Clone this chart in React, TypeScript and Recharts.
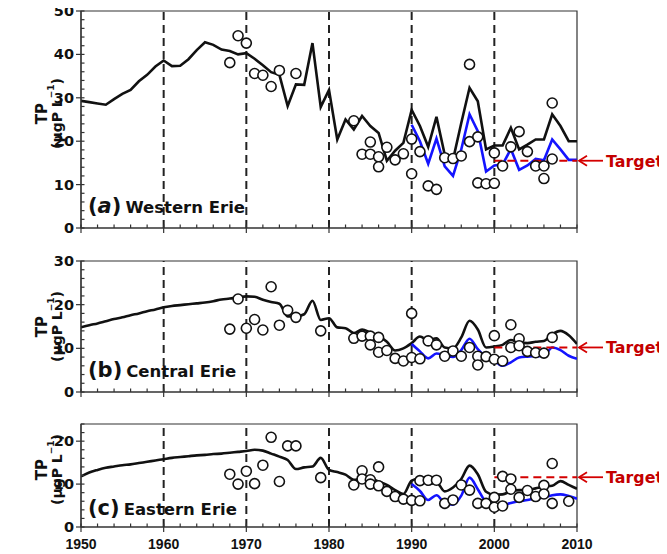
import React from 'react';
import { ComposedChart, Line, Scatter, XAxis, YAxis, ReferenceLine, ReferenceArea } from 'recharts';

// ---- data ----
const modelYears = [
  1950, 1951, 1952, 1953, 1954, 1955, 1956, 1957, 1958, 1959,
  1960, 1961, 1962, 1963, 1964, 1965, 1966, 1967, 1968, 1969,
  1970, 1971, 1972, 1973, 1974, 1975, 1976, 1977, 1978, 1979,
  1980, 1981, 1982, 1983, 1984, 1985, 1986, 1987, 1988, 1989,
  1990, 1991, 1992, 1993, 1994, 1995, 1996, 1997, 1998, 1999,
  2000, 2001, 2002, 2003, 2004, 2005, 2006, 2007, 2008, 2009, 2010,
];
const scenarioYears = [
  1990, 1991, 1992, 1993, 1994, 1995, 1996, 1997, 1998, 1999,
  2000, 2001, 2002, 2003, 2004, 2005, 2006, 2007, 2008, 2009, 2010,
];

const westModel = [
  29.3, 29.0, 28.7, 28.4, 29.7, 30.9, 31.8, 33.8, 35.3, 37.2,
  38.6, 37.3, 37.4, 38.9, 41.0, 42.8, 42.2, 41.1, 40.8, 40.0,
  40.3, 39.0, 37.5, 35.9, 35.3, 28.1, 33.1, 33.0, 42.6, 27.9,
  31.8, 20.4, 25.0, 22.7, 25.8, 23.5, 21.9, 15.5, 17.8, 19.6,
  27.2, 23.5, 18.7, 25.6, 16.9, 15.7, 24.2, 32.3, 29.2, 18.1,
  19.0, 19.0, 23.1, 18.1, 19.2, 20.4, 20.4, 26.2, 23.5, 20.0, 20.0,
];
const westScenario = [
  23.8, 20.0, 14.8, 20.6, 14.2, 12.0, 18.1, 26.2, 22.3, 13.0,
  14.4, 14.6, 18.2, 13.4, 14.4, 15.9, 15.6, 20.4, 18.1, 15.7, 15.7,
];
const westObsYears = [
  1968, 1969, 1970, 1971, 1972, 1973, 1974, 1976,
  1983, 1984, 1985, 1985, 1986, 1986, 1987, 1988, 1989, 1990, 1990, 1991,
  1992, 1993, 1994, 1995, 1996, 1997, 1997, 1998, 1998, 1999, 2000, 2000,
  2001, 2002, 2003, 2004, 2005, 2006, 2006, 2007, 2007,
];
const westObsTP = [
  38.1, 44.3, 42.6, 35.6, 35.2, 32.6, 36.3, 35.6,
  24.7, 17.0, 19.8, 17.0, 16.4, 14.1, 18.6, 15.7, 17.1, 20.5, 12.5, 17.6,
  9.7, 8.9, 16.2, 16.0, 16.6, 37.7, 19.9, 21.0, 10.4, 10.2, 10.3, 17.3,
  14.3, 18.7, 22.2, 17.6, 14.3, 14.3, 11.4, 28.8, 15.9,
];
const westTarget = 15.5;

const centralModel = [
  14.8, 15.3, 15.7, 16.2, 16.7, 17.1, 17.6, 18.0, 18.5, 18.9,
  19.4, 19.7, 19.9, 20.1, 20.3, 20.5, 20.8, 21.2, 21.4, 21.7,
  21.9, 21.8, 21.1, 20.6, 20.2, 17.3, 17.3, 17.8, 20.9, 16.5,
  16.9, 14.8, 14.6, 13.5, 14.3, 13.6, 12.8, 11.5, 9.5, 10.0,
  11.2, 12.7, 11.9, 12.3, 10.2, 10.0, 12.5, 16.3, 14.3, 10.2,
  10.4, 10.8, 11.9, 11.3, 11.2, 11.5, 11.7, 13.2, 14.0, 13.0, 11.0,
];
const centralScenario = [
  11.0, 9.3, 7.7, 8.8, 8.4, 8.0, 9.6, 12.2, 9.8, 8.0,
  7.2, 6.0, 6.8, 7.9, 8.1, 8.2, 8.3, 10.2, 9.6, 8.3, 7.6,
];
const centralObsYears = [
  1968, 1969, 1970, 1971, 1972, 1973, 1974, 1975, 1976, 1979,
  1983, 1984, 1985, 1985, 1986, 1986, 1987, 1988, 1989, 1990, 1990, 1991,
  1992, 1993, 1994, 1995, 1996, 1997, 1998, 1998, 1999, 2000, 2000, 2001,
  2002, 2002, 2003, 2003, 2004, 2005, 2006, 2007,
];
const centralObsTP = [
  14.4, 21.3, 14.6, 16.6, 14.2, 24.1, 15.3, 18.7, 17.1, 14.0,
  12.3, 12.8, 12.8, 10.8, 12.5, 9.1, 9.5, 7.7, 7.1, 18.0, 7.9, 7.6,
  11.7, 10.8, 8.2, 9.4, 8.2, 10.2, 8.2, 6.2, 8.1, 12.9, 7.5, 7.1,
  15.4, 10.2, 12.2, 10.6, 9.3, 9.0, 8.9, 12.5,
];
const centralTarget = 10.2;

const eastModel = [
  11.8, 12.7, 13.3, 13.8, 14.1, 14.4, 14.6, 14.9, 15.2, 15.5,
  15.8, 16.1, 16.3, 16.5, 16.7, 16.8, 17.0, 17.1, 17.3, 17.5,
  17.7, 18.0, 17.8, 17.1, 16.4, 15.6, 13.5, 13.9, 14.1, 16.1,
  13.3, 12.8, 12.2, 11.0, 11.3, 11.3, 10.6, 9.8, 8.6, 7.7,
  10.8, 11.3, 9.9, 10.4, 8.3, 9.2, 11.2, 14.3, 12.3, 8.2,
  7.5, 7.6, 8.3, 8.6, 8.6, 9.0, 9.4, 9.6, 10.7, 9.8, 8.9,
];
const eastScenario = [
  10.0, 8.4, 6.3, 7.4, 5.6, 5.2, 7.3, 11.5, 8.8, 5.9,
  5.4, 5.1, 5.6, 6.0, 6.3, 6.7, 6.9, 7.4, 7.6, 7.2, 6.6,
];
const eastObsYears = [
  1968, 1969, 1970, 1971, 1972, 1973, 1974, 1975, 1976, 1979,
  1983, 1984, 1984, 1985, 1985, 1986, 1986, 1987, 1988, 1989, 1990, 1991, 1991,
  1992, 1993, 1994, 1995, 1996, 1997, 1998, 1999, 2000, 2000, 2001, 2001,
  2002, 2002, 2003, 2004, 2005, 2006, 2006, 2007, 2007, 2009,
];
const eastObsTP = [
  12.3, 10.0, 13.0, 10.1, 14.4, 20.9, 10.6, 18.9, 18.9, 11.5,
  9.8, 13.1, 11.2, 11.0, 10.0, 14.0, 9.6, 8.3, 7.1, 6.5, 6.2, 6.1, 10.8,
  10.9, 10.9, 5.5, 6.3, 9.8, 8.6, 5.5, 5.5, 6.9, 4.6, 11.8, 4.9,
  11.2, 8.8, 6.9, 8.5, 7.1, 9.7, 7.7, 14.8, 5.5, 6.0,
];
const eastTarget = 11.6;

const yearTicks = [
  1950, 1952, 1954, 1956, 1958, 1960, 1962, 1964, 1966, 1968,
  1970, 1972, 1974, 1976, 1978, 1980, 1982, 1984, 1986, 1988,
  1990, 1992, 1994, 1996, 1998, 2000, 2002, 2004, 2006, 2008, 2010,
];
const decadeLines = [1960, 1970, 1980, 1990, 2000];
const westYTicks = [0, 2, 4, 6, 8, 10, 12, 14, 16, 18, 20, 22, 24, 26, 28, 30, 32, 34, 36, 38, 40, 42, 44, 46, 48, 50];
const centralYTicks = [0, 2, 4, 6, 8, 10, 12, 14, 16, 18, 20, 22, 24, 26, 28, 30];
const eastYTicks = [0, 2, 4, 6, 8, 10, 12, 14, 16, 18, 20, 22, 24];

// ---- helpers ----
const AXIS = '#333';
const RED = '#d40000';
const FONT = "'DejaVu Sans', sans-serif";

const zip = (xs: number[], ys: number[]) => xs.map((x, i) => ({ year: x, tp: ys[i] }));

const makeXTick = (showLabel: boolean) => (p: any) => {
  const { x, y, payload } = p;
  const v = payload.value;
  const major = v % 10 === 0;
  return (
    <g>
      <line x1={x} x2={x} y1={y} y2={y - 3.5} stroke={AXIS} strokeWidth={1.2} />
      {major && <line x1={x} x2={x} y1={y} y2={y + 5} stroke={AXIS} strokeWidth={1.2} />}
      {showLabel && major && (
        <text x={x} y={y + 22} textAnchor="middle" fontFamily="'Liberation Sans', Arial, sans-serif" fontWeight="bold" fontSize={14} fill="#111">
          {v}
        </text>
      )}
    </g>
  );
};

const YTick = (p: any) => {
  const { x, y, payload } = p;
  const v = payload.value;
  const major = v % 10 === 0;
  return (
    <g>
      <line x1={x} x2={x + 3.5} y1={y} y2={y} stroke={AXIS} strokeWidth={1.2} />
      {major && <line x1={x - 5} x2={x} y1={y} y2={y} stroke={AXIS} strokeWidth={1.2} />}
      {major && (
        <text x={x - 7} y={y + 5} textAnchor="end" fontFamily={FONT} fontWeight="bold" fontSize={14.5} fill="#111">
          {v}
        </text>
      )}
    </g>
  );
};

const CircleMark = (p: any) => (
  <circle cx={p.cx} cy={p.cy} r={5} fill="#fff" stroke="#111" strokeWidth={1.6} />
);

const TargetShape = (p: any) => {
  const { x1, y1, x2, y2 } = p;
  const tip = x2 + 2;
  return (
    <g>
      <line x1={x1} y1={y1} x2={x2} y2={y2} stroke={RED} strokeWidth={2} strokeDasharray="8 5" />
      <line x1={tip} y1={y2} x2={tip + 24} y2={y2} stroke={RED} strokeWidth={1.8} />
      <polyline points={`${tip + 8},${y2 - 5} ${tip},${y2} ${tip + 8},${y2 + 5}`} fill="none" stroke={RED} strokeWidth={1.8} />
      <text x={tip + 27} y={y2 + 6} fontFamily={FONT} fontWeight="bold" fontSize={15.5} fill="#c40000"
        textLength={57} lengthAdjust="spacingAndGlyphs">
        Target
      </text>
    </g>
  );
};

type PanelProps = {
  height: number;
  top: number;
  xHeight: number;
  showXLabels: boolean;
  yMax: number;
  yTicks: number[];
  model: number[];
  scenario: number[];
  obsYears: number[];
  obsTP: number[];
  target: number;
  letter: string;
  italicLetter: boolean;
  name: string;
  nameDrop: number;
  titleShift: number;
  curve: 'linear' | 'monotone';
};

function Panel(props: PanelProps) {
  const modelData = zip(modelYears, props.model);
  const scenarioData = zip(scenarioYears, props.scenario);
  const obsData = zip(props.obsYears, props.obsTP);

  const yLabel = (lp: any) => {
    const vb = lp.viewBox || {};
    const left = vb.x + vb.width;
    const cy = vb.y + vb.height / 2 + props.titleShift;
    const bottom = vb.y + vb.height;
    return (
      <g>
        <text x={left - 39} y={cy} transform={`rotate(-90 ${left - 39} ${cy})`} textAnchor="middle" dominantBaseline="central"
          fontFamily={FONT} fontWeight="bold" fontSize={15} fill="#111">TP</text>
        <text x={left - 24} y={cy} transform={`rotate(-90 ${left - 24} ${cy})`} textAnchor="middle" dominantBaseline="central"
          fontFamily={FONT} fontWeight="bold" fontSize={14} fill="#111">
          (µgP L<tspan fontSize={9} dy={-6}>−1</tspan><tspan dy={6}>)</tspan>
        </text>
        <text x={left + 7} y={bottom - props.nameDrop} fontFamily={FONT} fontWeight="bold" fill="#111">
          <tspan fontSize={21}>(</tspan>
          <tspan fontSize={21} fontStyle={props.italicLetter ? 'italic' : 'normal'}>{props.letter}</tspan>
          <tspan fontSize={21}>)</tspan>
          <tspan fontSize={16.5} dx={4}>{props.name}</tspan>
        </text>
      </g>
    );
  };

  return (
    <ComposedChart
      width={659}
      height={props.height}
      margin={{ top: props.top, right: 90, bottom: 0, left: 0 }}
      style={{ overflow: 'visible' }}
    >
      <XAxis
        dataKey="year"
        type="number"
        domain={[1950, 2010]}
        allowDataOverflow
        ticks={yearTicks}
        interval={0}
        tickSize={0}
        tickMargin={0}
        tickLine={false}
        height={props.xHeight}
        axisLine={{ stroke: AXIS, strokeWidth: 1.2 }}
        tick={makeXTick(props.showXLabels)}
      />
      <YAxis
        type="number"
        domain={[0, props.yMax]}
        allowDataOverflow
        ticks={props.yTicks}
        interval={0}
        tickSize={0}
        tickMargin={0}
        tickLine={false}
        width={73}
        axisLine={{ stroke: AXIS, strokeWidth: 1.2 }}
        tick={YTick}
        label={{ content: yLabel }}
      />
      <ReferenceArea x1={1950} x2={2010} y1={0} y2={props.yMax} fill="none" stroke={AXIS} strokeWidth={1.2} ifOverflow="visible" />
      {decadeLines.map((d) => (
        <ReferenceLine key={d} x={d} stroke="#222" strokeWidth={2} strokeDasharray="8 5" />
      ))}
      <Line data={modelData} dataKey="tp" type={props.curve} stroke="#111" strokeWidth={2.6} dot={false} isAnimationActive={false} />
      <Line data={scenarioData} dataKey="tp" type={props.curve} stroke="#1414ff" strokeWidth={2.6} dot={false} isAnimationActive={false} />
      <Scatter data={obsData} dataKey="tp" shape={CircleMark} isAnimationActive={false} />
      <ReferenceLine
        segment={[{ x: 2000, y: props.target }, { x: 2010, y: props.target }]}
        shape={TargetShape}
        ifOverflow="visible"
      />
    </ComposedChart>
  );
}

export default function App() {
  return (
    <div style={{ width: 659, marginTop: -8, fontFamily: FONT, background: '#fff' }}>
      <Panel
        height={240} top={11} xHeight={12} showXLabels={false}
        yMax={50} yTicks={westYTicks}
        model={westModel} scenario={westScenario}
        obsYears={westObsYears} obsTP={westObsTP}
        target={westTarget} letter="a" italicLetter name="Western Erie" nameDrop={15} titleShift={-6}
        curve="linear"
      />
      <Panel
        height={164} top={21} xHeight={12} showXLabels={false}
        yMax={30} yTicks={centralYTicks}
        model={centralModel} scenario={centralScenario}
        obsYears={centralObsYears} obsTP={centralObsTP}
        target={centralTarget} letter="b" italicLetter={false} name="Central Erie" nameDrop={15} titleShift={0}
        curve="monotone"
      />
      <Panel
        height={149} top={20} xHeight={26} showXLabels
        yMax={24} yTicks={eastYTicks}
        model={eastModel} scenario={eastScenario}
        obsYears={eastObsYears} obsTP={eastObsTP}
        target={eastTarget} letter="c" italicLetter={false} name="Eastern Erie" nameDrop={12} titleShift={-6}
        curve="monotone"
      />
    </div>
  );
}
